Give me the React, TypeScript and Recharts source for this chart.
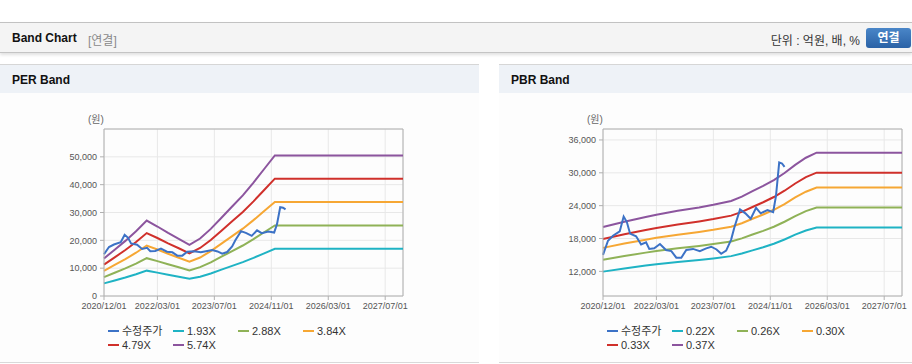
import { LineChart, Line, XAxis, YAxis, CartesianGrid, ReferenceLine } from "recharts";

// x axis is in months since 2020/12/01
const xTickMonths = [0, 15, 31, 47, 63, 79];
const xTickLabels = ["2020/12/01", "2022/03/01", "2023/07/01", "2024/11/01", "2026/03/01", "2027/07/01"];

// 수정주가
const priceMonths = [0, 1.4, 2.8, 4.7, 5.8, 6.7, 7.6, 9.3, 10.7, 12.1, 13, 14.4, 16, 17.7, 19.2, 20.6, 22, 23.4, 25.3, 27.2, 29, 30.4, 31.9, 33.2, 34.6, 36, 36.9, 38.5, 40, 41.5, 43, 44.3, 46.2, 47.8, 48.6, 49.5, 50.3, 51];
const priceValues = [15000, 17600, 18500, 19300, 22000, 21000, 18900, 18400, 16900, 17300, 16100, 16200, 17000, 15900, 15700, 14500, 14500, 15900, 16100, 15700, 16200, 16500, 16000, 15200, 15800, 17800, 20000, 23300, 22600, 21600, 23600, 22600, 23200, 22800, 25800, 31900, 31700, 31100];

// PER band
const perMonths = [0, 3, 6, 9, 12, 15, 18, 21, 24, 27, 30, 33, 36, 39, 42, 45, 48, 84];
const per193 = [4540, 5600, 6660, 7820, 9110, 8400, 7620, 6910, 6180, 6950, 8110, 9460, 10810, 12160, 13700, 15340, 16980, 16980];
const per288 = [6770, 8350, 9940, 11660, 13590, 12530, 11380, 10310, 9220, 10370, 12100, 14110, 16130, 18140, 20450, 22900, 25340, 25340];
const per384 = [9020, 11140, 13250, 15550, 18130, 16700, 15170, 13750, 12290, 13820, 16130, 18820, 21500, 24190, 27260, 30530, 33790, 33790];
const per479 = [11260, 13890, 16530, 19400, 22610, 20840, 18920, 17150, 15330, 17240, 20120, 23470, 26820, 30180, 34010, 38080, 42150, 42150];
const per574 = [13490, 16650, 19800, 23250, 27090, 24970, 22670, 20550, 18370, 20660, 24110, 28130, 32140, 36160, 40750, 45630, 50510, 50510];
const perNames = ["1.93X", "2.88X", "3.84X", "4.79X", "5.74X"];
const perYTicks = [0, 10000, 20000, 30000, 40000, 50000];

// PBR band
const pbrMonths = [0, 6, 12, 15, 21, 27, 31, 36, 39, 42, 45, 48, 51, 54, 57, 60, 84];
const pbr022 = [11950, 12520, 13050, 13290, 13710, 14080, 14370, 14780, 15250, 15840, 16410, 17050, 17820, 18700, 19470, 20020, 20020];
const pbr026 = [14120, 14790, 15420, 15700, 16200, 16640, 16980, 17470, 18020, 18720, 19400, 20150, 21060, 22100, 23010, 23660, 23660];
const pbr030 = [16290, 17070, 17790, 18120, 18690, 19200, 19590, 20160, 20790, 21600, 22380, 23250, 24300, 25500, 26550, 27300, 27300];
const pbr033 = [17920, 18780, 19570, 19930, 20560, 21120, 21550, 22180, 22870, 23760, 24620, 25580, 26730, 28050, 29210, 30030, 30030];
const pbr037 = [20090, 21050, 21940, 22350, 23050, 23680, 24160, 24860, 25640, 26640, 27600, 28680, 29970, 31450, 32750, 33670, 33670];
const pbrNames = ["0.22X", "0.26X", "0.30X", "0.33X", "0.37X"];
const pbrYTicks = [12000, 18000, 24000, 30000, 36000];

const priceColor = "#3c72c6";
const bandColors = ["#1fb3c4", "#8fb257", "#f6a734", "#d0302b", "#8c559e"];

const priceRows = priceMonths.map((m, i) => ({ m, v: priceValues[i] }));
const perRows = perMonths.map((m, i) => ({ m, b0: per193[i], b1: per288[i], b2: per384[i], b3: per479[i], b4: per574[i] }));
const pbrRows = pbrMonths.map((m, i) => ({ m, b0: pbr022[i], b1: pbr026[i], b2: pbr030[i], b3: pbr033[i], b4: pbr037[i] }));

const font = '"Liberation Sans", "Noto Sans CJK KR", sans-serif';
const tickStyle = { fontSize: 9, fill: "#555", fontFamily: font };

function BandLegend({ names }: { names: string[] }) {
  const items = [{ name: "수정주가", color: priceColor }, ...names.map((n, i) => ({ name: n, color: bandColors[i] }))];
  return (
    <div style={{ position: "absolute", left: 108, top: 323, width: 270 }}>
      {items.map((it, i) => (
        <div
          key={it.name}
          style={{
            position: "absolute",
            left: (i % 4) * 65,
            top: Math.floor(i / 4) * 13.5,
            display: "flex",
            alignItems: "center",
            fontSize: 11,
            color: "#333",
            lineHeight: "14px",
            whiteSpace: "nowrap",
          }}
        >
          <span style={{ display: "inline-block", width: 11, height: 2, background: it.color, marginRight: 3 }} />
          {it.name}
        </div>
      ))}
    </div>
  );
}

function BandPanel({ left, width, title, rows, names, domain, yTicks }: any) {
  return (
    <div style={{ position: "absolute", left, top: 64, width, height: 299, background: "#fdfdfd", borderTop: "1px solid #d6d6d6", borderBottom: "1px solid #d9d9d9", boxSizing: "border-box" }}>
      <div style={{ height: 28, background: "#eef2f7", fontSize: 12, fontWeight: "bold", color: "#111", lineHeight: "30px", paddingLeft: 12, fontFamily: font }}>
        {title}
      </div>
      <div style={{ position: "absolute", left: 88, top: 46, fontSize: 10, color: "#666", fontFamily: font }}>(원)</div>
      <div style={{ position: "absolute", left: 0, top: 29 }}>
        <LineChart width={width} height={230} margin={{ top: 35, right: width - 403, left: 0, bottom: 8 }}>
          <CartesianGrid stroke="#e8e8e8" strokeWidth={1} />
          <XAxis
            dataKey="m"
            type="number"
            domain={[0, 84]}
            ticks={xTickMonths}
            interval={0}
            tickFormatter={(v: number) => xTickLabels[xTickMonths.indexOf(v)]}
            tick={tickStyle}
            tickSize={4}
            tickMargin={3}
            stroke="#b0b0b0"
            height={20}
            allowDuplicatedCategory={false}
          />
          <YAxis
            type="number"
            domain={domain}
            ticks={yTicks}
            interval={0}
            tickFormatter={(v: number) => v.toLocaleString("en-US")}
            tick={tickStyle}
            tickSize={4}
            tickMargin={3}
            stroke="#b0b0b0"
            width={104}
            allowDataOverflow
          />
          <ReferenceLine y={domain[1]} stroke="#b0b0b0" />
          <ReferenceLine x={84} stroke="#b0b0b0" />
          {names.map((n: string, i: number) => (
            <Line key={n} data={rows} dataKey={"b" + i} name={n} type="linear" stroke={bandColors[i]} strokeWidth={2} dot={false} isAnimationActive={false} />
          ))}
          <Line data={priceRows} dataKey="v" name="수정주가" type="linear" stroke={priceColor} strokeWidth={2} dot={false} isAnimationActive={false} />
        </LineChart>
      </div>
      <div style={{ position: "absolute", left: 0, top: -64 }}>
        <BandLegend names={names} />
      </div>
    </div>
  );
}

export default function App() {
  return (
    <div style={{ position: "absolute", left: 0, top: 0, width: 912, height: 364, background: "#fff", fontFamily: font, overflow: "hidden" }}>
      <div style={{ position: "absolute", left: 0, top: 22, width: 912, height: 31, background: "#f4f4f4", borderTop: "1px solid #c2c2c2", borderBottom: "1px solid #c4c4c4", boxSizing: "border-box", boxShadow: "0 2px 3px rgba(0,0,0,0.12)" }}>
        <span style={{ position: "absolute", left: 12, top: 8, fontSize: 12, fontWeight: "bold", color: "#111" }}>Band Chart</span>
        <span style={{ position: "absolute", left: 88, top: 8, fontSize: 12, color: "#8a8a8a" }}>[연결]</span>
        <span style={{ position: "absolute", right: 52, top: 8, fontSize: 12, color: "#333" }}>단위 : 억원, 배, %</span>
        <div style={{ position: "absolute", left: 866, top: 5, width: 45, height: 20, borderRadius: 3, background: "linear-gradient(#4a86c8, #2a62a6)", color: "#fff", fontSize: 12, fontWeight: "bold", textAlign: "center", lineHeight: "20px" }}>
          연결
        </div>
      </div>
      <BandPanel left={0} width={479} title="PER Band" rows={perRows} names={perNames} domain={[0, 60000]} yTicks={perYTicks} />
      <BandPanel left={499} width={413} title="PBR Band" rows={pbrRows} names={pbrNames} domain={[7500, 38000]} yTicks={pbrYTicks} />
    </div>
  );
}
